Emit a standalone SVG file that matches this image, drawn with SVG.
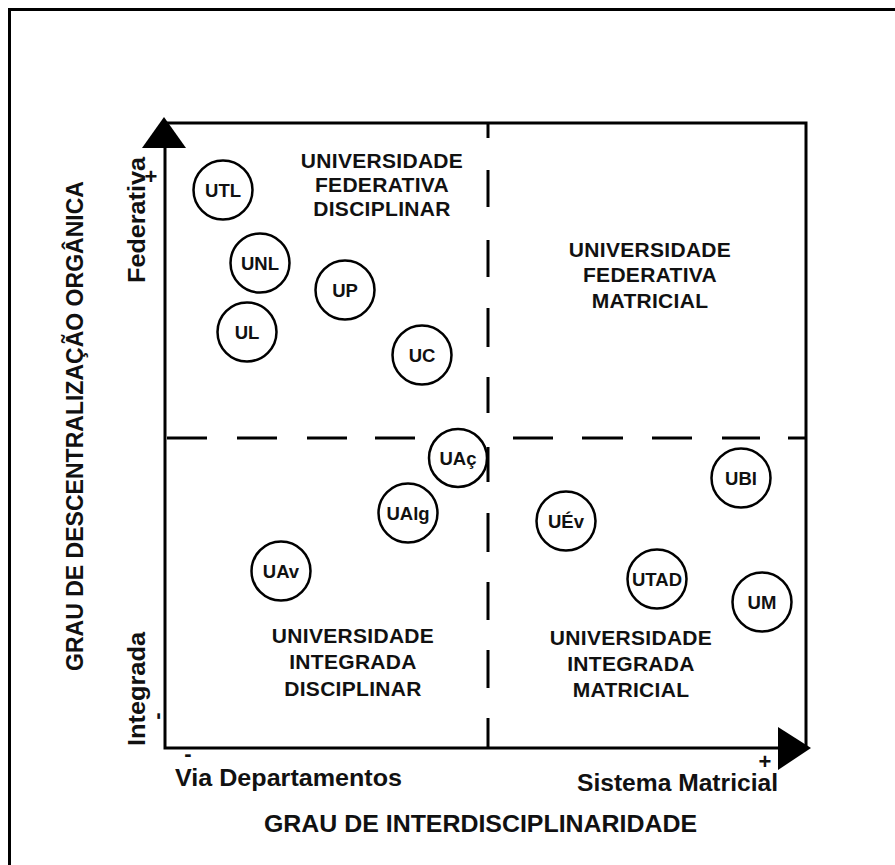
<svg xmlns="http://www.w3.org/2000/svg" width="895" height="865" viewBox="0 0 895 865">
  <style>
    .frame { fill: none; stroke: #000; stroke-width: 3; }
    .axis { fill: none; stroke: #000; stroke-width: 3; }
    .dash { stroke: #000; stroke-width: 3; }
    .head { fill: #000; }
    .uni circle { fill: #fff; stroke: #000; stroke-width: 2.5; }
    .uni text { font-family: "Liberation Sans", Arial, sans-serif; font-size: 18.5px; font-weight: bold; text-anchor: middle; fill: #111; }
    .quad { font-family: "Liberation Sans", Arial, sans-serif; font-size: 21px; font-weight: bold; text-anchor: middle; letter-spacing: 0.3px; fill: #111; }
    .lbl { font-family: "Liberation Sans", Arial, sans-serif; font-size: 23px; font-weight: bold; fill: #111; }
    .sign { font-family: "Liberation Sans", Arial, sans-serif; font-size: 22px; font-weight: bold; text-anchor: middle; fill: #111; }
  </style>

  <!-- page frame (open at right and bottom) -->
  <path class="frame" d="M9.5 865 V9.5 H895"/>

  <!-- axes, quadrant box and dividing lines -->
  <g id="connectors">
    <path class="axis" d="M165 146 V748 H780"/>
    <path class="axis" d="M164 123 H806 V748"/>
    <polygon class="head" points="164,117 142,148 186,148"/>
    <polygon class="head" points="811,748 778,727 778,770"/>
    <!-- horizontal divider -->
    <g class="dash">
      <line x1="167" y1="438" x2="207" y2="438"/>
      <line x1="237" y1="438" x2="277" y2="438"/>
      <line x1="307" y1="438" x2="347" y2="438"/>
      <line x1="375" y1="438" x2="415" y2="438"/>
      <line x1="513" y1="438" x2="553" y2="438"/>
      <line x1="582" y1="438" x2="623" y2="438"/>
      <line x1="652" y1="438" x2="692" y2="438"/>
      <line x1="722" y1="438" x2="760" y2="438"/>
      <line x1="788" y1="438" x2="806" y2="438"/>
    </g>
    <!-- vertical divider -->
    <g class="dash">
      <line x1="488" y1="123" x2="488" y2="138"/>
      <line x1="488" y1="170" x2="488" y2="207"/>
      <line x1="488" y1="240" x2="488" y2="277"/>
      <line x1="488" y1="308" x2="488" y2="347"/>
      <line x1="488" y1="377" x2="488" y2="413"/>
      <line x1="488" y1="447" x2="488" y2="482"/>
      <line x1="488" y1="513" x2="488" y2="552"/>
      <line x1="488" y1="582" x2="488" y2="620"/>
      <line x1="488" y1="650" x2="488" y2="688"/>
      <line x1="488" y1="718" x2="488" y2="748"/>
    </g>
  </g>

  <!-- quadrant titles -->
  <g id="q-federativa-disciplinar">
    <text class="quad" x="382" y="168">UNIVERSIDADE</text>
    <text class="quad" x="382" y="192">FEDERATIVA</text>
    <text class="quad" x="382" y="216">DISCIPLINAR</text>
  </g>
  <g id="q-federativa-matricial">
    <text class="quad" x="650" y="257">UNIVERSIDADE</text>
    <text class="quad" x="650" y="282">FEDERATIVA</text>
    <text class="quad" x="650" y="308">MATRICIAL</text>
  </g>
  <g id="q-integrada-disciplinar">
    <text class="quad" x="353" y="643">UNIVERSIDADE</text>
    <text class="quad" x="353" y="669">INTEGRADA</text>
    <text class="quad" x="353" y="696">DISCIPLINAR</text>
  </g>
  <g id="q-integrada-matricial">
    <text class="quad" x="631" y="645">UNIVERSIDADE</text>
    <text class="quad" x="631" y="671">INTEGRADA</text>
    <text class="quad" x="631" y="697">MATRICIAL</text>
  </g>

  <!-- universities -->
  <g id="utl" class="uni"><circle cx="223" cy="190" r="29.5"/><text x="223" y="197">UTL</text></g>
  <g id="unl" class="uni"><circle cx="260" cy="263" r="29.5"/><text x="260" y="270">UNL</text></g>
  <g id="up" class="uni"><circle cx="345" cy="290" r="29.5"/><text x="345" y="297">UP</text></g>
  <g id="ul" class="uni"><circle cx="247" cy="332" r="29.5"/><text x="247" y="339">UL</text></g>
  <g id="uc" class="uni"><circle cx="422" cy="355" r="29.5"/><text x="422" y="362">UC</text></g>
  <g id="uac" class="uni"><circle cx="458" cy="458" r="29"/><text x="458" y="465">UAç</text></g>
  <g id="ualg" class="uni"><circle cx="408" cy="513" r="29.5"/><text x="408" y="520">UAlg</text></g>
  <g id="uav" class="uni"><circle cx="281" cy="571" r="29.5"/><text x="281" y="578">UAv</text></g>
  <g id="uev" class="uni"><circle cx="566" cy="521" r="29.5"/><text x="566" y="528">UÉv</text></g>
  <g id="ubi" class="uni"><circle cx="741" cy="478" r="29.5"/><text x="741" y="485">UBI</text></g>
  <g id="utad" class="uni"><circle cx="657" cy="579" r="29.5"/><text x="657" y="586">UTAD</text></g>
  <g id="um" class="uni"><circle cx="762" cy="602" r="29.5"/><text x="762" y="609">UM</text></g>

  <!-- horizontal axis labels -->
  <g id="x-axis-labels">
    <text class="sign" x="188" y="761">-</text>
    <text class="lbl" x="175" y="786" textLength="227" lengthAdjust="spacingAndGlyphs">Via Departamentos</text>
    <text class="sign" x="765" y="769">+</text>
    <text class="lbl" x="577" y="791" textLength="201" lengthAdjust="spacingAndGlyphs">Sistema Matricial</text>
    <text class="lbl" x="264" y="832" textLength="433" lengthAdjust="spacingAndGlyphs">GRAU DE INTERDISCIPLINARIDADE</text>
  </g>

  <!-- vertical axis labels -->
  <g id="y-axis-labels">
    <text class="lbl" transform="translate(83,426) rotate(-90)" text-anchor="middle" textLength="490" lengthAdjust="spacingAndGlyphs">GRAU DE DESCENTRALIZAÇÃO ORGÂNICA</text>
    <text class="lbl" transform="translate(145,283) rotate(-90)" textLength="126" lengthAdjust="spacingAndGlyphs">Federativa</text>
    <text class="sign" x="151" y="184">+</text>
    <text class="lbl" transform="translate(145,746) rotate(-90)" textLength="114" lengthAdjust="spacingAndGlyphs">Integrada</text>
    <text class="sign" transform="translate(164,716) rotate(-90)">-</text>
  </g>
</svg>
